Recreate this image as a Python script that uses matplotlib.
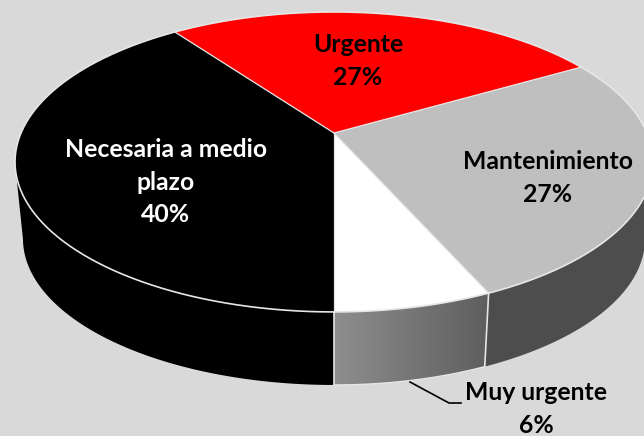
import numpy as np
from matplotlib import pyplot as plt
from matplotlib.colors import LinearSegmentedColormap

# shares behind the pie, the typed labels round them differently
names = ["Muy urgente", "Mantenimiento", "Urgente", "Necesaria a medio\nplazo"]
shares = [6.67, 26.67, 26.67, 40.0]
percent_labels = ["6%", "27%", "27%", "40%"]
top_colors = ["#FFFFFF", "#BFBFBF", "#FF0000", "#000000"]
side_colors = [None, "#4D4D4D", "#4D4D4D", "#000000"]
text_colors = ["black", "black", "black", "white"]
label_x = [536, 548, 358, 166]
label_y = [409, 178, 61, 182]

# pixel geometry of the tilted disc
cx, cy = 334, 133
rx, ry, persp = 313, 144.4, -0.193
depth_scale, depth_shift = 0.975, 77.5
rim = "#E6E6E6"


def top_point(angle):
    # angle runs from the bottom of the disc towards the right
    u, v = np.sin(angle), np.cos(angle)
    d = 1 + persp * v
    return cx + rx * u / d, cy + ry * v / d


def base_point(angle):
    x, y = top_point(angle)
    return cx + depth_scale * (x - cx), cy + depth_scale * (y - cy) + depth_shift


fig = plt.figure(figsize=(6.44, 4.36), dpi=100, facecolor="#D9D9D9")
ax = fig.add_axes([0, 0, 1, 1])

edges = np.radians(np.cumsum([0] + shares) / np.sum(shares) * 360)

# side walls first, only the front part where x grows with the angle
for i in range(len(shares)):
    t = np.linspace(edges[i], edges[i + 1], 400)
    t = t[np.gradient(top_point(t)[0]) > 0]
    if len(t) == 0:
        continue
    x1, y1 = top_point(t)
    x2, y2 = base_point(t)
    xs = np.concatenate([x1, x2[::-1]])
    ys = np.concatenate([y1, y2[::-1]])
    if side_colors[i] is None:
        poly = ax.fill(xs, ys, color="none", lw=0)[0]
        grad = np.linspace(0, 1, 256).reshape(1, -1)
        im = ax.imshow(grad, extent=[xs.min(), xs.max(), ys.max(), ys.min()], aspect="auto",
                       cmap=LinearSegmentedColormap.from_list("wall", ["#8E8E8E", "#5E5E5E"]),
                       zorder=1)
        im.set_clip_path(poly)
    else:
        ax.fill(xs, ys, color=side_colors[i], lw=0, zorder=1)

ax.set_xlim(0, 644)
ax.set_ylim(436, 0)
ax.axis("off")

# top of the disc
for i in range(len(shares)):
    t = np.linspace(edges[i], edges[i + 1], 160)
    x1, y1 = top_point(t)
    ax.fill(np.r_[cx, x1], np.r_[cy, y1], color=top_colors[i], lw=0, zorder=2)
    ax.plot(x1, y1, color=rim, lw=1.2, zorder=3)

for a in edges[:-1]:
    x, y = top_point(a)
    ax.plot([cx, x], [cy, y], color=rim, lw=0.9, zorder=3)

# wall seams at the front
for a in edges[:2]:
    x1, y1 = top_point(a)
    x2, y2 = base_point(a)
    ax.plot([x1, x2], [y1, y2], color=rim, lw=1.2, zorder=3)
t = np.linspace(edges[0], edges[1], 60)
x2, y2 = base_point(t)
ax.plot(x2, y2, color=rim, lw=1, zorder=3)

# leader for the small slice
ax.plot([410, 449, 461], [382, 403, 403], color="black", lw=1.2, zorder=4)

for i in range(len(names)):
    ax.text(label_x[i], label_y[i], names[i] + "\n" + percent_labels[i], color=text_colors[i],
            family="Lato", weight="bold", fontsize=17.8, ha="center", va="center",
            linespacing=1.52, zorder=5)

fig.savefig("out.png", dpi=100, facecolor=fig.get_facecolor())
